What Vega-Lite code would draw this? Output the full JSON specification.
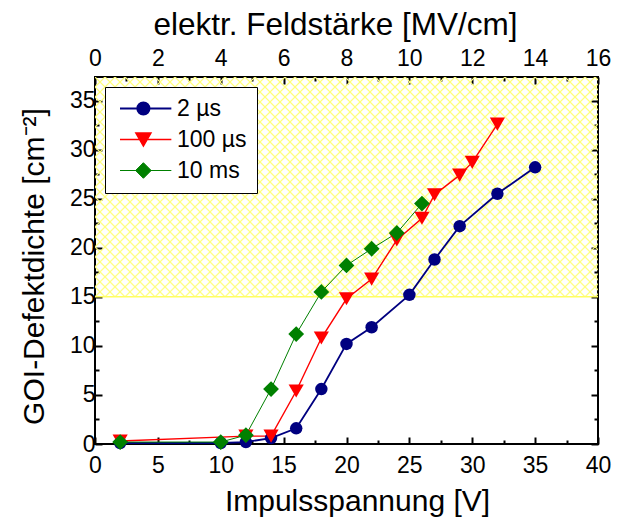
{
  "$schema": "https://vega.github.io/schema/vega-lite/v6.json",
  "width": 503,
  "height": 367,
  "autosize": {"type": "none"},
  "padding": {"left": 95, "top": 77, "right": 32, "bottom": 73},
  "background": "white",
  "config": {
    "font": "Liberation Sans",
    "view": {"stroke": "black", "strokeWidth": 2},
    "axis": {
      "domain": false, "grid": false,
      "labelFont": "Liberation Sans", "labelFontSize": 23, "labelColor": "black",
      "labelFlush": false, "labelOverlap": false,
      "titleFont": "Liberation Sans", "titleFontSize": 30, "titleFontWeight": "normal", "titleColor": "black",
      "tickColor": "black", "tickWidth": 2
    }
  },
  "datasets": {
    "messwerte": [
      {"serie": "2 µs", "spannung": 2, "dichte": 0.1},
      {"serie": "2 µs", "spannung": 10, "dichte": 0.1},
      {"serie": "2 µs", "spannung": 12, "dichte": 0.2},
      {"serie": "2 µs", "spannung": 14, "dichte": 0.6},
      {"serie": "2 µs", "spannung": 16, "dichte": 1.6},
      {"serie": "2 µs", "spannung": 18, "dichte": 5.6},
      {"serie": "2 µs", "spannung": 20, "dichte": 10.2},
      {"serie": "2 µs", "spannung": 22, "dichte": 11.9},
      {"serie": "2 µs", "spannung": 25, "dichte": 15.2},
      {"serie": "2 µs", "spannung": 27, "dichte": 18.8},
      {"serie": "2 µs", "spannung": 29, "dichte": 22.2},
      {"serie": "2 µs", "spannung": 32, "dichte": 25.5},
      {"serie": "2 µs", "spannung": 35, "dichte": 28.2},
      {"serie": "100 µs", "spannung": 2, "dichte": 0.3},
      {"serie": "100 µs", "spannung": 12, "dichte": 0.8},
      {"serie": "100 µs", "spannung": 14, "dichte": 0.8},
      {"serie": "100 µs", "spannung": 16, "dichte": 5.4},
      {"serie": "100 µs", "spannung": 18, "dichte": 10.8},
      {"serie": "100 µs", "spannung": 20, "dichte": 14.8},
      {"serie": "100 µs", "spannung": 22, "dichte": 16.8},
      {"serie": "100 µs", "spannung": 24, "dichte": 20.8},
      {"serie": "100 µs", "spannung": 26, "dichte": 23.0},
      {"serie": "100 µs", "spannung": 27, "dichte": 25.4},
      {"serie": "100 µs", "spannung": 29, "dichte": 27.4},
      {"serie": "100 µs", "spannung": 30, "dichte": 28.7},
      {"serie": "100 µs", "spannung": 32, "dichte": 32.6},
      {"serie": "10 ms", "spannung": 2, "dichte": 0.2},
      {"serie": "10 ms", "spannung": 10, "dichte": 0.2},
      {"serie": "10 ms", "spannung": 12, "dichte": 0.9},
      {"serie": "10 ms", "spannung": 14, "dichte": 5.6},
      {"serie": "10 ms", "spannung": 16, "dichte": 11.2},
      {"serie": "10 ms", "spannung": 18, "dichte": 15.5},
      {"serie": "10 ms", "spannung": 20, "dichte": 18.2},
      {"serie": "10 ms", "spannung": 22, "dichte": 19.9},
      {"serie": "10 ms", "spannung": 24, "dichte": 21.5},
      {"serie": "10 ms", "spannung": 26, "dichte": 24.5}
    ],
    "bereich": [{"von": 15, "bis": 37.4}]
  },
  "layer": [
    {
      "data": {"name": "bereich"},
      "mark": {
        "type": "rect", "strokeWidth": 0,
        "fill": {
          "gradient": "linear", "x1": 0, "y1": 0, "x2": 1.3351, "y2": 0.5839,
          "stops": [
            {"offset": 0, "color": "#ffff78"}, {"offset": 0.002, "color": "rgba(255,255,120,0)"},
            {"offset": 0.0105, "color": "rgba(255,255,120,0)"}, {"offset": 0.0125, "color": "#ffff78"}, {"offset": 0.0145, "color": "rgba(255,255,120,0)"},
            {"offset": 0.023, "color": "rgba(255,255,120,0)"}, {"offset": 0.025, "color": "#ffff78"}, {"offset": 0.027, "color": "rgba(255,255,120,0)"},
            {"offset": 0.0355, "color": "rgba(255,255,120,0)"}, {"offset": 0.0375, "color": "#ffff78"}, {"offset": 0.0395, "color": "rgba(255,255,120,0)"},
            {"offset": 0.048, "color": "rgba(255,255,120,0)"}, {"offset": 0.05, "color": "#ffff78"}, {"offset": 0.052, "color": "rgba(255,255,120,0)"},
            {"offset": 0.0605, "color": "rgba(255,255,120,0)"}, {"offset": 0.0625, "color": "#ffff78"}, {"offset": 0.0645, "color": "rgba(255,255,120,0)"},
            {"offset": 0.073, "color": "rgba(255,255,120,0)"}, {"offset": 0.075, "color": "#ffff78"}, {"offset": 0.077, "color": "rgba(255,255,120,0)"},
            {"offset": 0.0855, "color": "rgba(255,255,120,0)"}, {"offset": 0.0875, "color": "#ffff78"}, {"offset": 0.0895, "color": "rgba(255,255,120,0)"},
            {"offset": 0.098, "color": "rgba(255,255,120,0)"}, {"offset": 0.1, "color": "#ffff78"}, {"offset": 0.102, "color": "rgba(255,255,120,0)"},
            {"offset": 0.1105, "color": "rgba(255,255,120,0)"}, {"offset": 0.1125, "color": "#ffff78"}, {"offset": 0.1145, "color": "rgba(255,255,120,0)"},
            {"offset": 0.123, "color": "rgba(255,255,120,0)"}, {"offset": 0.125, "color": "#ffff78"}, {"offset": 0.127, "color": "rgba(255,255,120,0)"},
            {"offset": 0.1355, "color": "rgba(255,255,120,0)"}, {"offset": 0.1375, "color": "#ffff78"}, {"offset": 0.1395, "color": "rgba(255,255,120,0)"},
            {"offset": 0.148, "color": "rgba(255,255,120,0)"}, {"offset": 0.15, "color": "#ffff78"}, {"offset": 0.152, "color": "rgba(255,255,120,0)"},
            {"offset": 0.1605, "color": "rgba(255,255,120,0)"}, {"offset": 0.1625, "color": "#ffff78"}, {"offset": 0.1645, "color": "rgba(255,255,120,0)"},
            {"offset": 0.173, "color": "rgba(255,255,120,0)"}, {"offset": 0.175, "color": "#ffff78"}, {"offset": 0.177, "color": "rgba(255,255,120,0)"},
            {"offset": 0.1855, "color": "rgba(255,255,120,0)"}, {"offset": 0.1875, "color": "#ffff78"}, {"offset": 0.1895, "color": "rgba(255,255,120,0)"},
            {"offset": 0.198, "color": "rgba(255,255,120,0)"}, {"offset": 0.2, "color": "#ffff78"}, {"offset": 0.202, "color": "rgba(255,255,120,0)"},
            {"offset": 0.2105, "color": "rgba(255,255,120,0)"}, {"offset": 0.2125, "color": "#ffff78"}, {"offset": 0.2145, "color": "rgba(255,255,120,0)"},
            {"offset": 0.223, "color": "rgba(255,255,120,0)"}, {"offset": 0.225, "color": "#ffff78"}, {"offset": 0.227, "color": "rgba(255,255,120,0)"},
            {"offset": 0.2355, "color": "rgba(255,255,120,0)"}, {"offset": 0.2375, "color": "#ffff78"}, {"offset": 0.2395, "color": "rgba(255,255,120,0)"},
            {"offset": 0.248, "color": "rgba(255,255,120,0)"}, {"offset": 0.25, "color": "#ffff78"}, {"offset": 0.252, "color": "rgba(255,255,120,0)"},
            {"offset": 0.2605, "color": "rgba(255,255,120,0)"}, {"offset": 0.2625, "color": "#ffff78"}, {"offset": 0.2645, "color": "rgba(255,255,120,0)"},
            {"offset": 0.273, "color": "rgba(255,255,120,0)"}, {"offset": 0.275, "color": "#ffff78"}, {"offset": 0.277, "color": "rgba(255,255,120,0)"},
            {"offset": 0.2855, "color": "rgba(255,255,120,0)"}, {"offset": 0.2875, "color": "#ffff78"}, {"offset": 0.2895, "color": "rgba(255,255,120,0)"},
            {"offset": 0.298, "color": "rgba(255,255,120,0)"}, {"offset": 0.3, "color": "#ffff78"}, {"offset": 0.302, "color": "rgba(255,255,120,0)"},
            {"offset": 0.3105, "color": "rgba(255,255,120,0)"}, {"offset": 0.3125, "color": "#ffff78"}, {"offset": 0.3145, "color": "rgba(255,255,120,0)"},
            {"offset": 0.323, "color": "rgba(255,255,120,0)"}, {"offset": 0.325, "color": "#ffff78"}, {"offset": 0.327, "color": "rgba(255,255,120,0)"},
            {"offset": 0.3355, "color": "rgba(255,255,120,0)"}, {"offset": 0.3375, "color": "#ffff78"}, {"offset": 0.3395, "color": "rgba(255,255,120,0)"},
            {"offset": 0.348, "color": "rgba(255,255,120,0)"}, {"offset": 0.35, "color": "#ffff78"}, {"offset": 0.352, "color": "rgba(255,255,120,0)"},
            {"offset": 0.3605, "color": "rgba(255,255,120,0)"}, {"offset": 0.3625, "color": "#ffff78"}, {"offset": 0.3645, "color": "rgba(255,255,120,0)"},
            {"offset": 0.373, "color": "rgba(255,255,120,0)"}, {"offset": 0.375, "color": "#ffff78"}, {"offset": 0.377, "color": "rgba(255,255,120,0)"},
            {"offset": 0.3855, "color": "rgba(255,255,120,0)"}, {"offset": 0.3875, "color": "#ffff78"}, {"offset": 0.3895, "color": "rgba(255,255,120,0)"},
            {"offset": 0.398, "color": "rgba(255,255,120,0)"}, {"offset": 0.4, "color": "#ffff78"}, {"offset": 0.402, "color": "rgba(255,255,120,0)"},
            {"offset": 0.4105, "color": "rgba(255,255,120,0)"}, {"offset": 0.4125, "color": "#ffff78"}, {"offset": 0.4145, "color": "rgba(255,255,120,0)"},
            {"offset": 0.423, "color": "rgba(255,255,120,0)"}, {"offset": 0.425, "color": "#ffff78"}, {"offset": 0.427, "color": "rgba(255,255,120,0)"},
            {"offset": 0.4355, "color": "rgba(255,255,120,0)"}, {"offset": 0.4375, "color": "#ffff78"}, {"offset": 0.4395, "color": "rgba(255,255,120,0)"},
            {"offset": 0.448, "color": "rgba(255,255,120,0)"}, {"offset": 0.45, "color": "#ffff78"}, {"offset": 0.452, "color": "rgba(255,255,120,0)"},
            {"offset": 0.4605, "color": "rgba(255,255,120,0)"}, {"offset": 0.4625, "color": "#ffff78"}, {"offset": 0.4645, "color": "rgba(255,255,120,0)"},
            {"offset": 0.473, "color": "rgba(255,255,120,0)"}, {"offset": 0.475, "color": "#ffff78"}, {"offset": 0.477, "color": "rgba(255,255,120,0)"},
            {"offset": 0.4855, "color": "rgba(255,255,120,0)"}, {"offset": 0.4875, "color": "#ffff78"}, {"offset": 0.4895, "color": "rgba(255,255,120,0)"},
            {"offset": 0.498, "color": "rgba(255,255,120,0)"}, {"offset": 0.5, "color": "#ffff78"}, {"offset": 0.502, "color": "rgba(255,255,120,0)"},
            {"offset": 0.5105, "color": "rgba(255,255,120,0)"}, {"offset": 0.5125, "color": "#ffff78"}, {"offset": 0.5145, "color": "rgba(255,255,120,0)"},
            {"offset": 0.523, "color": "rgba(255,255,120,0)"}, {"offset": 0.525, "color": "#ffff78"}, {"offset": 0.527, "color": "rgba(255,255,120,0)"},
            {"offset": 0.5355, "color": "rgba(255,255,120,0)"}, {"offset": 0.5375, "color": "#ffff78"}, {"offset": 0.5395, "color": "rgba(255,255,120,0)"},
            {"offset": 0.548, "color": "rgba(255,255,120,0)"}, {"offset": 0.55, "color": "#ffff78"}, {"offset": 0.552, "color": "rgba(255,255,120,0)"},
            {"offset": 0.5605, "color": "rgba(255,255,120,0)"}, {"offset": 0.5625, "color": "#ffff78"}, {"offset": 0.5645, "color": "rgba(255,255,120,0)"},
            {"offset": 0.573, "color": "rgba(255,255,120,0)"}, {"offset": 0.575, "color": "#ffff78"}, {"offset": 0.577, "color": "rgba(255,255,120,0)"},
            {"offset": 0.5855, "color": "rgba(255,255,120,0)"}, {"offset": 0.5875, "color": "#ffff78"}, {"offset": 0.5895, "color": "rgba(255,255,120,0)"},
            {"offset": 0.598, "color": "rgba(255,255,120,0)"}, {"offset": 0.6, "color": "#ffff78"}, {"offset": 0.602, "color": "rgba(255,255,120,0)"},
            {"offset": 0.6105, "color": "rgba(255,255,120,0)"}, {"offset": 0.6125, "color": "#ffff78"}, {"offset": 0.6145, "color": "rgba(255,255,120,0)"},
            {"offset": 0.623, "color": "rgba(255,255,120,0)"}, {"offset": 0.625, "color": "#ffff78"}, {"offset": 0.627, "color": "rgba(255,255,120,0)"},
            {"offset": 0.6355, "color": "rgba(255,255,120,0)"}, {"offset": 0.6375, "color": "#ffff78"}, {"offset": 0.6395, "color": "rgba(255,255,120,0)"},
            {"offset": 0.648, "color": "rgba(255,255,120,0)"}, {"offset": 0.65, "color": "#ffff78"}, {"offset": 0.652, "color": "rgba(255,255,120,0)"},
            {"offset": 0.6605, "color": "rgba(255,255,120,0)"}, {"offset": 0.6625, "color": "#ffff78"}, {"offset": 0.6645, "color": "rgba(255,255,120,0)"},
            {"offset": 0.673, "color": "rgba(255,255,120,0)"}, {"offset": 0.675, "color": "#ffff78"}, {"offset": 0.677, "color": "rgba(255,255,120,0)"},
            {"offset": 0.6855, "color": "rgba(255,255,120,0)"}, {"offset": 0.6875, "color": "#ffff78"}, {"offset": 0.6895, "color": "rgba(255,255,120,0)"},
            {"offset": 0.698, "color": "rgba(255,255,120,0)"}, {"offset": 0.7, "color": "#ffff78"}, {"offset": 0.702, "color": "rgba(255,255,120,0)"},
            {"offset": 0.7105, "color": "rgba(255,255,120,0)"}, {"offset": 0.7125, "color": "#ffff78"}, {"offset": 0.7145, "color": "rgba(255,255,120,0)"},
            {"offset": 0.723, "color": "rgba(255,255,120,0)"}, {"offset": 0.725, "color": "#ffff78"}, {"offset": 0.727, "color": "rgba(255,255,120,0)"},
            {"offset": 0.7355, "color": "rgba(255,255,120,0)"}, {"offset": 0.7375, "color": "#ffff78"}, {"offset": 0.7395, "color": "rgba(255,255,120,0)"},
            {"offset": 0.748, "color": "rgba(255,255,120,0)"}, {"offset": 0.75, "color": "#ffff78"}, {"offset": 0.752, "color": "rgba(255,255,120,0)"},
            {"offset": 0.7605, "color": "rgba(255,255,120,0)"}, {"offset": 0.7625, "color": "#ffff78"}, {"offset": 0.7645, "color": "rgba(255,255,120,0)"},
            {"offset": 0.773, "color": "rgba(255,255,120,0)"}, {"offset": 0.775, "color": "#ffff78"}, {"offset": 0.777, "color": "rgba(255,255,120,0)"},
            {"offset": 0.7855, "color": "rgba(255,255,120,0)"}, {"offset": 0.7875, "color": "#ffff78"}, {"offset": 0.7895, "color": "rgba(255,255,120,0)"},
            {"offset": 0.798, "color": "rgba(255,255,120,0)"}, {"offset": 0.8, "color": "#ffff78"}, {"offset": 0.802, "color": "rgba(255,255,120,0)"},
            {"offset": 0.8105, "color": "rgba(255,255,120,0)"}, {"offset": 0.8125, "color": "#ffff78"}, {"offset": 0.8145, "color": "rgba(255,255,120,0)"},
            {"offset": 0.823, "color": "rgba(255,255,120,0)"}, {"offset": 0.825, "color": "#ffff78"}, {"offset": 0.827, "color": "rgba(255,255,120,0)"},
            {"offset": 0.8355, "color": "rgba(255,255,120,0)"}, {"offset": 0.8375, "color": "#ffff78"}, {"offset": 0.8395, "color": "rgba(255,255,120,0)"},
            {"offset": 0.848, "color": "rgba(255,255,120,0)"}, {"offset": 0.85, "color": "#ffff78"}, {"offset": 0.852, "color": "rgba(255,255,120,0)"},
            {"offset": 0.8605, "color": "rgba(255,255,120,0)"}, {"offset": 0.8625, "color": "#ffff78"}, {"offset": 0.8645, "color": "rgba(255,255,120,0)"},
            {"offset": 0.873, "color": "rgba(255,255,120,0)"}, {"offset": 0.875, "color": "#ffff78"}, {"offset": 0.877, "color": "rgba(255,255,120,0)"},
            {"offset": 0.8855, "color": "rgba(255,255,120,0)"}, {"offset": 0.8875, "color": "#ffff78"}, {"offset": 0.8895, "color": "rgba(255,255,120,0)"},
            {"offset": 0.898, "color": "rgba(255,255,120,0)"}, {"offset": 0.9, "color": "#ffff78"}, {"offset": 0.902, "color": "rgba(255,255,120,0)"},
            {"offset": 0.9105, "color": "rgba(255,255,120,0)"}, {"offset": 0.9125, "color": "#ffff78"}, {"offset": 0.9145, "color": "rgba(255,255,120,0)"}
          ]
        }
      },
      "encoding": {
        "x": {"datum": 0, "type": "quantitative", "scale": {"domain": [0, 40], "nice": false, "zero": false},
              "axis": {"orient": "bottom", "values": [2.5, 7.5, 12.5, 17.5, 22.5, 27.5, 32.5, 37.5], "labels": false, "tickSize": -4, "title": null}},
        "x2": {"datum": 40},
        "y": {"field": "von", "type": "quantitative", "scale": {"domain": [0, 37.4], "nice": false, "zero": false},
              "axis": {"orient": "left", "values": [2.5, 7.5, 12.5, 17.5, 22.5, 27.5, 32.5], "labels": false, "tickSize": -4, "title": null}},
        "y2": {"field": "bis"}
      }
    },
    {
      "data": {"name": "bereich"},
      "mark": {
        "type": "rect", "strokeWidth": 0,
        "fill": {
          "gradient": "linear", "x1": 0, "y1": 1, "x2": 1.3351, "y2": 0.4161,
          "stops": [
            {"offset": 0, "color": "#ffff78"}, {"offset": 0.002, "color": "rgba(255,255,120,0)"},
            {"offset": 0.0105, "color": "rgba(255,255,120,0)"}, {"offset": 0.0125, "color": "#ffff78"}, {"offset": 0.0145, "color": "rgba(255,255,120,0)"},
            {"offset": 0.023, "color": "rgba(255,255,120,0)"}, {"offset": 0.025, "color": "#ffff78"}, {"offset": 0.027, "color": "rgba(255,255,120,0)"},
            {"offset": 0.0355, "color": "rgba(255,255,120,0)"}, {"offset": 0.0375, "color": "#ffff78"}, {"offset": 0.0395, "color": "rgba(255,255,120,0)"},
            {"offset": 0.048, "color": "rgba(255,255,120,0)"}, {"offset": 0.05, "color": "#ffff78"}, {"offset": 0.052, "color": "rgba(255,255,120,0)"},
            {"offset": 0.0605, "color": "rgba(255,255,120,0)"}, {"offset": 0.0625, "color": "#ffff78"}, {"offset": 0.0645, "color": "rgba(255,255,120,0)"},
            {"offset": 0.073, "color": "rgba(255,255,120,0)"}, {"offset": 0.075, "color": "#ffff78"}, {"offset": 0.077, "color": "rgba(255,255,120,0)"},
            {"offset": 0.0855, "color": "rgba(255,255,120,0)"}, {"offset": 0.0875, "color": "#ffff78"}, {"offset": 0.0895, "color": "rgba(255,255,120,0)"},
            {"offset": 0.098, "color": "rgba(255,255,120,0)"}, {"offset": 0.1, "color": "#ffff78"}, {"offset": 0.102, "color": "rgba(255,255,120,0)"},
            {"offset": 0.1105, "color": "rgba(255,255,120,0)"}, {"offset": 0.1125, "color": "#ffff78"}, {"offset": 0.1145, "color": "rgba(255,255,120,0)"},
            {"offset": 0.123, "color": "rgba(255,255,120,0)"}, {"offset": 0.125, "color": "#ffff78"}, {"offset": 0.127, "color": "rgba(255,255,120,0)"},
            {"offset": 0.1355, "color": "rgba(255,255,120,0)"}, {"offset": 0.1375, "color": "#ffff78"}, {"offset": 0.1395, "color": "rgba(255,255,120,0)"},
            {"offset": 0.148, "color": "rgba(255,255,120,0)"}, {"offset": 0.15, "color": "#ffff78"}, {"offset": 0.152, "color": "rgba(255,255,120,0)"},
            {"offset": 0.1605, "color": "rgba(255,255,120,0)"}, {"offset": 0.1625, "color": "#ffff78"}, {"offset": 0.1645, "color": "rgba(255,255,120,0)"},
            {"offset": 0.173, "color": "rgba(255,255,120,0)"}, {"offset": 0.175, "color": "#ffff78"}, {"offset": 0.177, "color": "rgba(255,255,120,0)"},
            {"offset": 0.1855, "color": "rgba(255,255,120,0)"}, {"offset": 0.1875, "color": "#ffff78"}, {"offset": 0.1895, "color": "rgba(255,255,120,0)"},
            {"offset": 0.198, "color": "rgba(255,255,120,0)"}, {"offset": 0.2, "color": "#ffff78"}, {"offset": 0.202, "color": "rgba(255,255,120,0)"},
            {"offset": 0.2105, "color": "rgba(255,255,120,0)"}, {"offset": 0.2125, "color": "#ffff78"}, {"offset": 0.2145, "color": "rgba(255,255,120,0)"},
            {"offset": 0.223, "color": "rgba(255,255,120,0)"}, {"offset": 0.225, "color": "#ffff78"}, {"offset": 0.227, "color": "rgba(255,255,120,0)"},
            {"offset": 0.2355, "color": "rgba(255,255,120,0)"}, {"offset": 0.2375, "color": "#ffff78"}, {"offset": 0.2395, "color": "rgba(255,255,120,0)"},
            {"offset": 0.248, "color": "rgba(255,255,120,0)"}, {"offset": 0.25, "color": "#ffff78"}, {"offset": 0.252, "color": "rgba(255,255,120,0)"},
            {"offset": 0.2605, "color": "rgba(255,255,120,0)"}, {"offset": 0.2625, "color": "#ffff78"}, {"offset": 0.2645, "color": "rgba(255,255,120,0)"},
            {"offset": 0.273, "color": "rgba(255,255,120,0)"}, {"offset": 0.275, "color": "#ffff78"}, {"offset": 0.277, "color": "rgba(255,255,120,0)"},
            {"offset": 0.2855, "color": "rgba(255,255,120,0)"}, {"offset": 0.2875, "color": "#ffff78"}, {"offset": 0.2895, "color": "rgba(255,255,120,0)"},
            {"offset": 0.298, "color": "rgba(255,255,120,0)"}, {"offset": 0.3, "color": "#ffff78"}, {"offset": 0.302, "color": "rgba(255,255,120,0)"},
            {"offset": 0.3105, "color": "rgba(255,255,120,0)"}, {"offset": 0.3125, "color": "#ffff78"}, {"offset": 0.3145, "color": "rgba(255,255,120,0)"},
            {"offset": 0.323, "color": "rgba(255,255,120,0)"}, {"offset": 0.325, "color": "#ffff78"}, {"offset": 0.327, "color": "rgba(255,255,120,0)"},
            {"offset": 0.3355, "color": "rgba(255,255,120,0)"}, {"offset": 0.3375, "color": "#ffff78"}, {"offset": 0.3395, "color": "rgba(255,255,120,0)"},
            {"offset": 0.348, "color": "rgba(255,255,120,0)"}, {"offset": 0.35, "color": "#ffff78"}, {"offset": 0.352, "color": "rgba(255,255,120,0)"},
            {"offset": 0.3605, "color": "rgba(255,255,120,0)"}, {"offset": 0.3625, "color": "#ffff78"}, {"offset": 0.3645, "color": "rgba(255,255,120,0)"},
            {"offset": 0.373, "color": "rgba(255,255,120,0)"}, {"offset": 0.375, "color": "#ffff78"}, {"offset": 0.377, "color": "rgba(255,255,120,0)"},
            {"offset": 0.3855, "color": "rgba(255,255,120,0)"}, {"offset": 0.3875, "color": "#ffff78"}, {"offset": 0.3895, "color": "rgba(255,255,120,0)"},
            {"offset": 0.398, "color": "rgba(255,255,120,0)"}, {"offset": 0.4, "color": "#ffff78"}, {"offset": 0.402, "color": "rgba(255,255,120,0)"},
            {"offset": 0.4105, "color": "rgba(255,255,120,0)"}, {"offset": 0.4125, "color": "#ffff78"}, {"offset": 0.4145, "color": "rgba(255,255,120,0)"},
            {"offset": 0.423, "color": "rgba(255,255,120,0)"}, {"offset": 0.425, "color": "#ffff78"}, {"offset": 0.427, "color": "rgba(255,255,120,0)"},
            {"offset": 0.4355, "color": "rgba(255,255,120,0)"}, {"offset": 0.4375, "color": "#ffff78"}, {"offset": 0.4395, "color": "rgba(255,255,120,0)"},
            {"offset": 0.448, "color": "rgba(255,255,120,0)"}, {"offset": 0.45, "color": "#ffff78"}, {"offset": 0.452, "color": "rgba(255,255,120,0)"},
            {"offset": 0.4605, "color": "rgba(255,255,120,0)"}, {"offset": 0.4625, "color": "#ffff78"}, {"offset": 0.4645, "color": "rgba(255,255,120,0)"},
            {"offset": 0.473, "color": "rgba(255,255,120,0)"}, {"offset": 0.475, "color": "#ffff78"}, {"offset": 0.477, "color": "rgba(255,255,120,0)"},
            {"offset": 0.4855, "color": "rgba(255,255,120,0)"}, {"offset": 0.4875, "color": "#ffff78"}, {"offset": 0.4895, "color": "rgba(255,255,120,0)"},
            {"offset": 0.498, "color": "rgba(255,255,120,0)"}, {"offset": 0.5, "color": "#ffff78"}, {"offset": 0.502, "color": "rgba(255,255,120,0)"},
            {"offset": 0.5105, "color": "rgba(255,255,120,0)"}, {"offset": 0.5125, "color": "#ffff78"}, {"offset": 0.5145, "color": "rgba(255,255,120,0)"},
            {"offset": 0.523, "color": "rgba(255,255,120,0)"}, {"offset": 0.525, "color": "#ffff78"}, {"offset": 0.527, "color": "rgba(255,255,120,0)"},
            {"offset": 0.5355, "color": "rgba(255,255,120,0)"}, {"offset": 0.5375, "color": "#ffff78"}, {"offset": 0.5395, "color": "rgba(255,255,120,0)"},
            {"offset": 0.548, "color": "rgba(255,255,120,0)"}, {"offset": 0.55, "color": "#ffff78"}, {"offset": 0.552, "color": "rgba(255,255,120,0)"},
            {"offset": 0.5605, "color": "rgba(255,255,120,0)"}, {"offset": 0.5625, "color": "#ffff78"}, {"offset": 0.5645, "color": "rgba(255,255,120,0)"},
            {"offset": 0.573, "color": "rgba(255,255,120,0)"}, {"offset": 0.575, "color": "#ffff78"}, {"offset": 0.577, "color": "rgba(255,255,120,0)"},
            {"offset": 0.5855, "color": "rgba(255,255,120,0)"}, {"offset": 0.5875, "color": "#ffff78"}, {"offset": 0.5895, "color": "rgba(255,255,120,0)"},
            {"offset": 0.598, "color": "rgba(255,255,120,0)"}, {"offset": 0.6, "color": "#ffff78"}, {"offset": 0.602, "color": "rgba(255,255,120,0)"},
            {"offset": 0.6105, "color": "rgba(255,255,120,0)"}, {"offset": 0.6125, "color": "#ffff78"}, {"offset": 0.6145, "color": "rgba(255,255,120,0)"},
            {"offset": 0.623, "color": "rgba(255,255,120,0)"}, {"offset": 0.625, "color": "#ffff78"}, {"offset": 0.627, "color": "rgba(255,255,120,0)"},
            {"offset": 0.6355, "color": "rgba(255,255,120,0)"}, {"offset": 0.6375, "color": "#ffff78"}, {"offset": 0.6395, "color": "rgba(255,255,120,0)"},
            {"offset": 0.648, "color": "rgba(255,255,120,0)"}, {"offset": 0.65, "color": "#ffff78"}, {"offset": 0.652, "color": "rgba(255,255,120,0)"},
            {"offset": 0.6605, "color": "rgba(255,255,120,0)"}, {"offset": 0.6625, "color": "#ffff78"}, {"offset": 0.6645, "color": "rgba(255,255,120,0)"},
            {"offset": 0.673, "color": "rgba(255,255,120,0)"}, {"offset": 0.675, "color": "#ffff78"}, {"offset": 0.677, "color": "rgba(255,255,120,0)"},
            {"offset": 0.6855, "color": "rgba(255,255,120,0)"}, {"offset": 0.6875, "color": "#ffff78"}, {"offset": 0.6895, "color": "rgba(255,255,120,0)"},
            {"offset": 0.698, "color": "rgba(255,255,120,0)"}, {"offset": 0.7, "color": "#ffff78"}, {"offset": 0.702, "color": "rgba(255,255,120,0)"},
            {"offset": 0.7105, "color": "rgba(255,255,120,0)"}, {"offset": 0.7125, "color": "#ffff78"}, {"offset": 0.7145, "color": "rgba(255,255,120,0)"},
            {"offset": 0.723, "color": "rgba(255,255,120,0)"}, {"offset": 0.725, "color": "#ffff78"}, {"offset": 0.727, "color": "rgba(255,255,120,0)"},
            {"offset": 0.7355, "color": "rgba(255,255,120,0)"}, {"offset": 0.7375, "color": "#ffff78"}, {"offset": 0.7395, "color": "rgba(255,255,120,0)"},
            {"offset": 0.748, "color": "rgba(255,255,120,0)"}, {"offset": 0.75, "color": "#ffff78"}, {"offset": 0.752, "color": "rgba(255,255,120,0)"},
            {"offset": 0.7605, "color": "rgba(255,255,120,0)"}, {"offset": 0.7625, "color": "#ffff78"}, {"offset": 0.7645, "color": "rgba(255,255,120,0)"},
            {"offset": 0.773, "color": "rgba(255,255,120,0)"}, {"offset": 0.775, "color": "#ffff78"}, {"offset": 0.777, "color": "rgba(255,255,120,0)"},
            {"offset": 0.7855, "color": "rgba(255,255,120,0)"}, {"offset": 0.7875, "color": "#ffff78"}, {"offset": 0.7895, "color": "rgba(255,255,120,0)"},
            {"offset": 0.798, "color": "rgba(255,255,120,0)"}, {"offset": 0.8, "color": "#ffff78"}, {"offset": 0.802, "color": "rgba(255,255,120,0)"},
            {"offset": 0.8105, "color": "rgba(255,255,120,0)"}, {"offset": 0.8125, "color": "#ffff78"}, {"offset": 0.8145, "color": "rgba(255,255,120,0)"},
            {"offset": 0.823, "color": "rgba(255,255,120,0)"}, {"offset": 0.825, "color": "#ffff78"}, {"offset": 0.827, "color": "rgba(255,255,120,0)"},
            {"offset": 0.8355, "color": "rgba(255,255,120,0)"}, {"offset": 0.8375, "color": "#ffff78"}, {"offset": 0.8395, "color": "rgba(255,255,120,0)"},
            {"offset": 0.848, "color": "rgba(255,255,120,0)"}, {"offset": 0.85, "color": "#ffff78"}, {"offset": 0.852, "color": "rgba(255,255,120,0)"},
            {"offset": 0.8605, "color": "rgba(255,255,120,0)"}, {"offset": 0.8625, "color": "#ffff78"}, {"offset": 0.8645, "color": "rgba(255,255,120,0)"},
            {"offset": 0.873, "color": "rgba(255,255,120,0)"}, {"offset": 0.875, "color": "#ffff78"}, {"offset": 0.877, "color": "rgba(255,255,120,0)"},
            {"offset": 0.8855, "color": "rgba(255,255,120,0)"}, {"offset": 0.8875, "color": "#ffff78"}, {"offset": 0.8895, "color": "rgba(255,255,120,0)"},
            {"offset": 0.898, "color": "rgba(255,255,120,0)"}, {"offset": 0.9, "color": "#ffff78"}, {"offset": 0.902, "color": "rgba(255,255,120,0)"},
            {"offset": 0.9105, "color": "rgba(255,255,120,0)"}, {"offset": 0.9125, "color": "#ffff78"}, {"offset": 0.9145, "color": "rgba(255,255,120,0)"}
          ]
        }
      },
      "encoding": {
        "x": {"datum": 0, "type": "quantitative", "scale": {"domain": [0, 40], "nice": false, "zero": false}, "axis": null},
        "x2": {"datum": 40},
        "y": {"field": "von", "type": "quantitative", "scale": {"domain": [0, 37.4], "nice": false, "zero": false}, "axis": null},
        "y2": {"field": "bis"}
      }
    },
    {
      "data": {"name": "bereich"},
      "mark": {"type": "rule", "color": "#ffff60", "strokeWidth": 1.5},
      "encoding": {
        "x": {"datum": 0, "type": "quantitative", "scale": {"domain": [0, 40], "nice": false, "zero": false},
              "axis": {"orient": "top", "values": [2.5, 7.5, 12.5, 17.5, 22.5, 27.5, 32.5, 37.5], "labels": false, "tickSize": -4, "title": null}},
        "x2": {"datum": 40},
        "y": {"field": "von", "type": "quantitative", "scale": {"domain": [0, 37.4], "nice": false, "zero": false},
              "axis": {"orient": "right", "values": [2.5, 7.5, 12.5, 17.5, 22.5, 27.5, 32.5], "labels": false, "tickSize": -4, "title": null}}
      }
    },
    {
      "data": {"name": "messwerte"},
      "mark": {"type": "line"},
      "encoding": {
        "x": {"field": "spannung", "type": "quantitative", "scale": {"domain": [0, 40], "nice": false, "zero": false},
              "axis": {"orient": "bottom", "values": [0, 5, 10, 15, 20, 25, 30, 35, 40], "tickSize": -7, "labelPadding": 17,
                       "title": "Impulsspannung [V]", "titlePadding": 9, "titleX": 262}},
        "y": {"field": "dichte", "type": "quantitative", "scale": {"domain": [0, 37.4], "nice": false, "zero": false},
              "axis": {"orient": "left", "values": [0, 5, 10, 15, 20, 25, 30, 35], "tickSize": -7, "labelPadding": 7,
                       "title": "GOI-Defektdichte [cm⁻²]", "titlePadding": 20, "titleY": 189}},
        "color": {"field": "serie", "type": "nominal",
                  "scale": {"domain": ["2 µs", "100 µs", "10 ms"], "range": ["#000080", "#ff0000", "#008000"]}},
        "strokeWidth": {"field": "serie", "type": "nominal", "legend": null,
                        "scale": {"domain": ["2 µs", "100 µs", "10 ms"], "range": [1.8, 1, 1.2]}}
      }
    },
    {
      "data": {"name": "messwerte"},
      "transform": [{"filter": "datum.serie === '2 µs'"}],
      "mark": {"type": "point", "shape": "circle", "filled": true, "opacity": 1, "size": 155},
      "encoding": {
        "x": {"field": "spannung", "type": "quantitative", "scale": {"domain": [0, 40], "nice": false, "zero": false},
              "axis": {"orient": "top", "values": [0, 5, 10, 15, 20, 25, 30, 35, 40], "tickSize": -7, "labelPadding": 14,
                       "labelExpr": "format(datum.value * 0.4, 'd')",
                       "title": "elektr. Feldstärke [MV/cm]", "titlePadding": 6, "titleFontSize": 31.5, "titleX": 240}},
        "y": {"field": "dichte", "type": "quantitative", "scale": {"domain": [0, 37.4], "nice": false, "zero": false},
              "axis": {"orient": "right", "values": [0, 5, 10, 15, 20, 25, 30, 35], "tickSize": -7, "labels": false, "title": null}},
        "color": {"field": "serie", "type": "nominal",
                  "scale": {"domain": ["2 µs", "100 µs", "10 ms"], "range": ["#000080", "#ff0000", "#008000"]},
                  "legend": {
                    "orient": "top-left", "offset": 10, "title": null,
                    "strokeColor": "black", "fillColor": "white", "padding": 10,
                    "labelFont": "Liberation Sans", "labelFontSize": 23, "labelColor": "black", "labelOffset": 39,
                    "symbolSize": 169, "rowPadding": 7, "symbolOpacity": 1,
                    "symbolType": {"expr": "datum.value === '2 µs' ? 'M-1,0H6.9M3.55,0A0.95,0.95,0,1,1,1.65,0A0.95,0.95,0,1,1,3.55,0Z' : datum.value === '100 µs' ? 'M-1,0H6.9M1.43,-1.01L3.77,-1.01L2.6,1.01Z' : 'M-1,0H6.9M1.4,0L2.6,-1.2L3.8,0L2.6,1.2Z'"},
                    "symbolStrokeColor": {"expr": "scale('color', datum.value)"},
                    "symbolStrokeWidth": {"expr": "datum.value === '2 µs' ? 1.8 : 1.1"}
                  }}
      }
    },
    {
      "data": {"name": "messwerte"},
      "transform": [{"filter": "datum.serie === '100 µs'"}],
      "mark": {"type": "point", "shape": "triangle-down", "filled": true, "opacity": 1, "size": 230},
      "encoding": {
        "x": {"field": "spannung", "type": "quantitative", "scale": {"domain": [0, 40], "nice": false, "zero": false}, "axis": null},
        "y": {"field": "dichte", "type": "quantitative", "scale": {"domain": [0, 37.4], "nice": false, "zero": false}, "axis": null},
        "color": {"field": "serie", "type": "nominal",
                  "scale": {"domain": ["2 µs", "100 µs", "10 ms"], "range": ["#000080", "#ff0000", "#008000"]}}
      }
    },
    {
      "data": {"name": "messwerte"},
      "transform": [{"filter": "datum.serie === '10 ms'"}],
      "mark": {"type": "point", "shape": "diamond", "filled": true, "opacity": 1, "size": 250},
      "encoding": {
        "x": {"field": "spannung", "type": "quantitative", "scale": {"domain": [0, 40], "nice": false, "zero": false}, "axis": null},
        "y": {"field": "dichte", "type": "quantitative", "scale": {"domain": [0, 37.4], "nice": false, "zero": false}, "axis": null},
        "color": {"field": "serie", "type": "nominal",
                  "scale": {"domain": ["2 µs", "100 µs", "10 ms"], "range": ["#000080", "#ff0000", "#008000"]}}
      }
    }
  ],
  "resolve": {"axis": {"x": "independent", "y": "independent"}}
}
